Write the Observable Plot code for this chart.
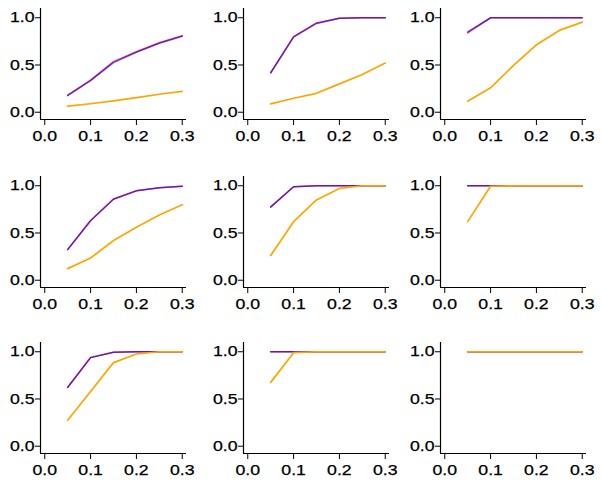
<!DOCTYPE html>
<html><head><meta charset="utf-8">
<script src="https://cdn.jsdelivr.net/npm/d3@7"></script>
<script src="https://cdn.jsdelivr.net/npm/@observablehq/plot@0.6"></script>
<style>
body{margin:0;background:#fff}
#chart{position:relative;width:601px;height:490px;background:#fff}
#chart svg{position:absolute;}
#chart svg text{font-family:'Liberation Sans', Arial, sans-serif !important;font-size:14.5px !important;fill:#000;stroke:#000;stroke-width:0.25px;}
</style></head><body><div id="chart"></div>
<script>
const xs = [0.05, 0.1, 0.15, 0.2, 0.25, 0.3];
const red = [
  [0.18, 0.34, 0.535, 0.64, 0.735, 0.81],
  [0.42, 0.80, 0.945, 0.995, 1.0, 1.0],
  [0.84, 1.0, 1.0, 1.0, 1.0, 1.0],
  [0.326, 0.632, 0.86, 0.947, 0.98, 0.995],
  [0.776, 0.99, 1.0, 1.0, 1.0, 1.0],
  [1.0, 1.0, 1.0, 1.0, 1.0, 1.0],
  [0.624, 0.94, 0.995, 1.0, 1.0, 1.0],
  [1.0, 1.0, 1.0, 1.0, 1.0, 1.0],
  [1.0, 1.0, 1.0, 1.0, 1.0, 1.0]
];
const blue = [
  [0.175, 0.335, 0.525, 0.635, 0.73, 0.805],
  [0.415, 0.795, 0.94, 0.995, 1.0, 1.0],
  [0.85, 1.0, 1.0, 1.0, 1.0, 1.0],
  [0.324, 0.63, 0.858, 0.946, 0.98, 0.995],
  [0.774, 0.99, 1.0, 1.0, 1.0, 1.0],
  [1.0, 1.0, 1.0, 1.0, 1.0, 1.0],
  [0.622, 0.938, 0.995, 1.0, 1.0, 1.0],
  [1.0, 1.0, 1.0, 1.0, 1.0, 1.0],
  [1.0, 1.0, 1.0, 1.0, 1.0, 1.0]
];
const orange = [
  [0.065, 0.09, 0.12, 0.155, 0.19, 0.22],
  [0.088, 0.148, 0.20, 0.30, 0.40, 0.52],
  [0.117, 0.258, 0.495, 0.714, 0.866, 0.954],
  [0.123, 0.235, 0.42, 0.56, 0.69, 0.80],
  [0.262, 0.62, 0.85, 0.972, 1.0, 1.0],
  [0.62, 0.995, 1.0, 1.0, 1.0, 1.0],
  [0.275, 0.58, 0.885, 0.976, 1.0, 1.0],
  [0.676, 0.99, 1.0, 1.0, 1.0, 1.0],
  [1.0, 1.0, 1.0, 1.0, 1.0, 1.0]
];
const xTicks = [0, 0.1, 0.2, 0.3];
const yTicks = [0, 0.5, 1.0];

const xDomain = [-0.0093, 0.3093];
const yDomain = [-0.077, 1.098];
const colLeft = [0, 202.7, 400];
const rowTop = [0, 168, 334];
const chart = document.getElementById("chart");
const fmt = d3.format(".1f");

for (let i = 0; i < 9; i++) {
  const r = Math.floor(i / 3), c = i % 3;
  const rows = (series) => xs.map((x, j) => ({x, y: series[i][j]}));
  const plot = Plot.plot({
    width: 195, height: 150,
    marginLeft: 40, marginRight: 9, marginTop: 8, marginBottom: 31,
    style: {fontFamily: "'Liberation Sans', Arial, sans-serif", fontSize: "14.5px", color: "#000", background: "transparent", overflow: "visible"},
    x: {domain: xDomain},
    y: {domain: yDomain},
    marks: [
      Plot.axisX({ticks: xTicks, tickSize: 6, tickPadding: 5, tickFormat: fmt, label: null}),
      Plot.axisY({ticks: yTicks, tickSize: 5, tickPadding: 1, tickFormat: fmt, label: null}),
      Plot.ruleX([xDomain[0]], {stroke: "#000", strokeWidth: 1.2}),
      Plot.ruleY([yDomain[0]], {stroke: "#000", strokeWidth: 1.2}),
      Plot.line(rows(red), {x: "x", y: "y", stroke: "#ff0000", strokeOpacity: 0.75, strokeWidth: 1.5}),
      Plot.line(rows(blue), {x: "x", y: "y", stroke: "#0000ff", strokeOpacity: 0.6, strokeWidth: 1.5}),
      Plot.line(rows(orange), {x: "x", y: "y", stroke: "#ffa500", strokeOpacity: 1, strokeWidth: 1.7})
    ]
  });
  plot.style.left = colLeft[c] + "px";
  plot.style.top = rowTop[r] + "px";
  chart.append(plot);
  plot.querySelectorAll("text").forEach(t => {
    const w = t.getComputedTextLength();
    if (w > 0) {
      t.setAttribute("textLength", (w * 1.22).toFixed(2));
      t.setAttribute("lengthAdjust", "spacingAndGlyphs");
    }
  });
}
</script></body></html>
